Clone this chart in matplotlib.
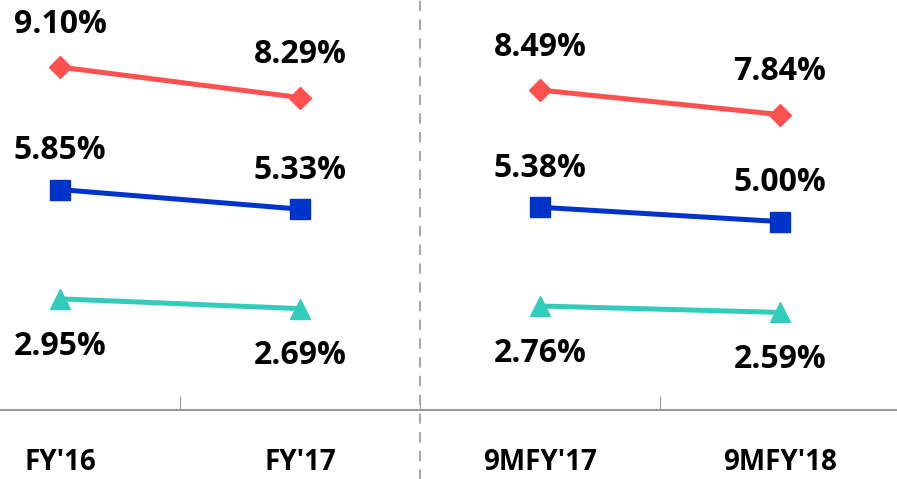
import matplotlib.pyplot as plt

categories = ["FY'16", "FY'17", "9MFY'17", "9MFY'18"]
red_vals = [9.10, 8.29, 8.49, 7.84]
blue_vals = [5.85, 5.33, 5.38, 5.00]
green_vals = [2.95, 2.69, 2.76, 2.59]

red = '#FF5050'
blue = '#0033CC'
green = '#33CCBB'

plt.rcParams['font.family'] = ['Open Sans', 'DejaVu Sans']

fig = plt.figure(figsize=(8.97, 4.79), dpi=100)
ax = fig.add_axes([0, 69 / 479, 1, 410 / 479])

x = list(range(len(categories)))
groups = [(0, 2), (2, 4)]

for a, b in groups:
    ax.plot(x[a:b], red_vals[a:b], color=red, lw=3.6, marker='D', ms=11)
    ax.plot(x[a:b], blue_vals[a:b], color=blue, lw=3.6, marker='s', ms=14)
    ax.plot(x[a:b], green_vals[a:b], color=green, lw=3.6, marker='^', ms=14)

for i in x:
    ax.annotate(f'{red_vals[i]:.2f}%', (i, red_vals[i]), xytext=(0, 31), textcoords='offset points',
                ha='center', va='center', fontsize=23, fontweight='bold')
    ax.annotate(f'{blue_vals[i]:.2f}%', (i, blue_vals[i]), xytext=(0, 28), textcoords='offset points',
                ha='center', va='center', fontsize=23, fontweight='bold')
    ax.annotate(f'{green_vals[i]:.2f}%', (i, green_vals[i]), xytext=(0, -34), textcoords='offset points',
                ha='center', va='center', fontsize=23, fontweight='bold')

ax.set_xlim(-0.25, 3.4875)
ax.set_ylim(0, 10.88)
ax.set_yticks([])
ax.set_xticks([0.5, 1.5, 2.5])
ax.set_xticklabels([])
ax.set_xticks(x, minor=True)
ax.set_xticklabels(categories, minor=True, fontsize=20, fontweight='bold')
ax.tick_params(axis='x', which='major', length=10, color='#999999', direction='in')
ax.tick_params(axis='x', which='minor', length=0, pad=27)
for s in ['top', 'left', 'right']:
    ax.spines[s].set_visible(False)
ax.spines['bottom'].set_color('#999999')
ax.spines['bottom'].set_linewidth(1.5)

ax.axvline(1.5, ymin=-0.2, ymax=1, color='#AAAAAA', lw=1.5, ls=(0, (5, 4)), clip_on=False)

fig.savefig('out.png', dpi=100)
